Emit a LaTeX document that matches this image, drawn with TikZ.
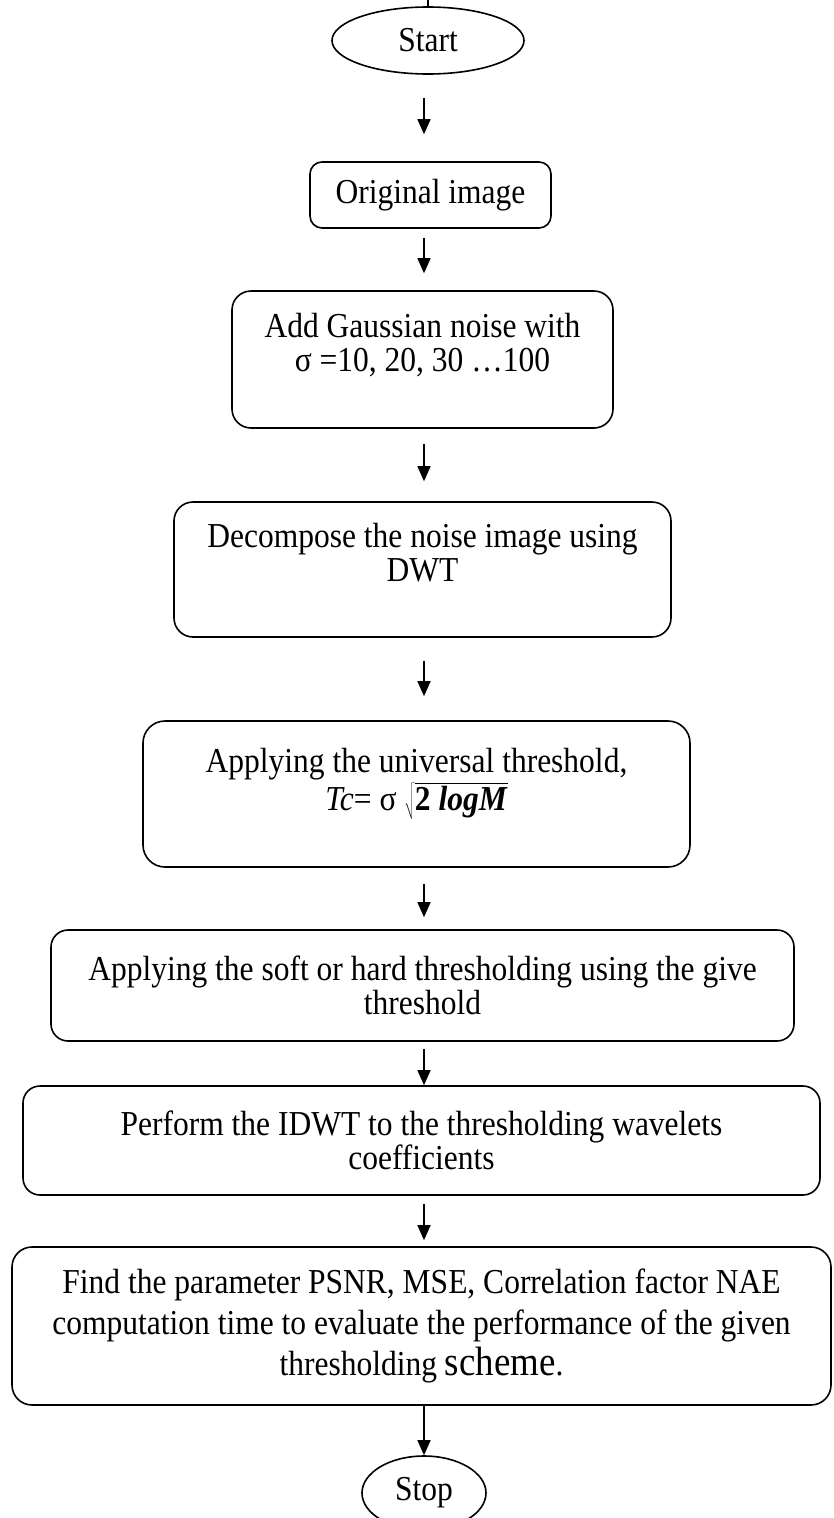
\documentclass[tikz,border=0pt]{standalone}
\usepackage{fontspec}
\setmainfont{Liberation Serif}[FakeStretch=0.9]
\usetikzlibrary{shapes.geometric,arrows.meta}
\tikzset{
proc/.style={draw,rounded corners=19pt,line width=1.6pt,align=center,inner sep=0pt},
term/.style={draw,ellipse,line width=1.6pt,inner sep=0pt},
flow/.style={line width=1.6pt,-{Triangle[length=15pt,width=13pt]}}
}

\begin{document}
\begin{tikzpicture}[x=1pt,y=-1pt,font=\fontsize{35}{34}\selectfont]
\clip (0,0) rectangle (833,1518);
\coordinate (axis) at (424,0);
\node (start) at (428,40.5)[term,minimum width=192pt,minimum height=67pt]{Start};
\node (orig) at (430.5,195)[proc,rounded corners=12pt,minimum width=241pt,minimum height=66pt]{Original image};
\node (noise) at (422.5,359.5)[proc,minimum width=381pt,minimum height=137pt]{Add Gaussian noise with\\ σ =10, 20, 30 …100\\ \mbox{}};
\node (dwt) at (422.5,569.5)[proc,minimum width=497pt,minimum height=135pt]{Decompose the noise image using\\ DWT\\ \mbox{}};
\node (univ) at (416.5,794)[proc,rounded corners=22pt,minimum width=547pt,minimum height=146pt]{Applying the universal threshold,\\[2pt] \textit{Tc}= σ $\sqrt{\mbox{\bfseries 2 \textit{logM}}}$\\[-4pt] \mbox{}};
\node (thr) at (422.5,985.5)[proc,rounded corners=17pt,minimum width=743pt,minimum height=111pt]{Applying the soft or hard thresholding using the give\\ threshold};
\node (idwt) at (421.5,1140.5)[proc,rounded corners=17pt,minimum width=797pt,minimum height=109pt]{Perform the IDWT to the thresholding wavelets\\ coefficients};
\node (eval) at (421.5,1326)[proc,rounded corners=20pt,minimum width=819pt,minimum height=158pt,font=\fontsize{35}{41}\selectfont]{Find the parameter PSNR, MSE, Correlation factor NAE\\ computation time to evaluate the performance of the given\\ thresholding {\fontsize{41}{41}\selectfont scheme}.};
\node (stop) at (424,1493)[term,minimum width=124pt,minimum height=74pt]{Stop};
\draw[line width=1.6pt] (start.north) -- ++(0,-8);
\draw[flow,shorten <=23pt,shorten >=27pt] (start.south -| axis) -- (orig.north -| axis);
\draw[flow,shorten <=9pt,shorten >=17pt] (orig.south -| axis) -- (noise.north -| axis);
\draw[flow,shorten <=15pt,shorten >=20pt] (noise.south -| axis) -- (dwt.north -| axis);
\draw[flow,shorten <=23pt,shorten >=24pt] (dwt.south -| axis) -- (univ.north -| axis);
\draw[flow,shorten <=16pt,shorten >=12pt] (univ.south -| axis) -- (thr.north -| axis);
\draw[flow,shorten <=7pt] (thr.south -| axis) -- (idwt.north -| axis);
\draw[flow,shorten <=8pt,shorten >=6pt] (idwt.south -| axis) -- (eval.north -| axis);
\draw[flow] (eval.south -| axis) -- (stop);
\end{tikzpicture}
\end{document}
